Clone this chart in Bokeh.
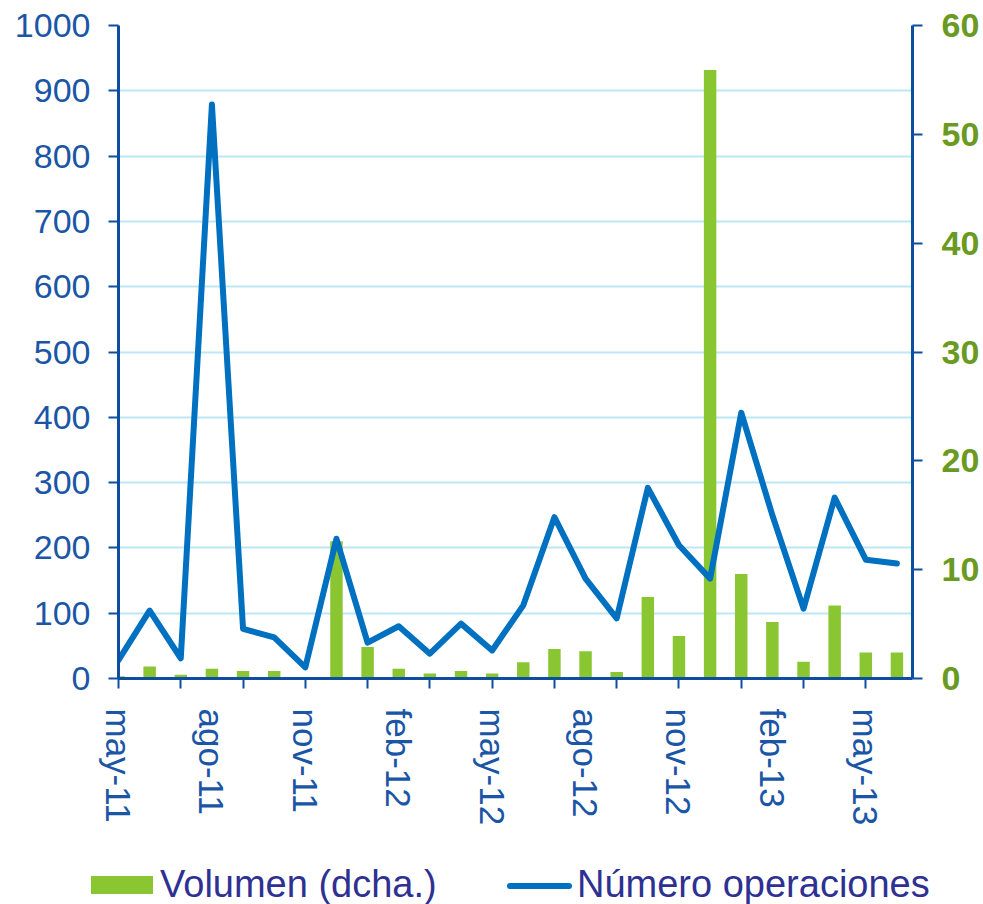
from bokeh.plotting import figure
from bokeh.models import Range1d, LinearAxis, FixedTicker, Grid, Div
from bokeh.layouts import column
from bokeh.embed import file_html
from bokeh.resources import INLINE

# ---- data ----
months = ["may-11", "jun-11", "jul-11", "ago-11", "sep-11", "oct-11", "nov-11", "dic-11",
          "ene-12", "feb-12", "mar-12", "abr-12", "may-12", "jun-12", "jul-12", "ago-12",
          "sep-12", "oct-12", "nov-12", "dic-12", "ene-13", "feb-13", "mar-13", "abr-13",
          "may-13", "jun-13"]
month_index = list(range(len(months)))
operaciones = [28, 104, 31, 879, 76, 63, 17, 214, 55, 80, 38, 84, 43, 112, 247, 153,
               92, 292, 204, 153, 407, 250, 107, 277, 182, 176]
volumen = [0.2, 1.1, 0.35, 0.9, 0.7, 0.7, 0.0, 12.6, 2.9, 0.9, 0.45, 0.7, 0.45, 1.5, 2.7, 2.5,
           0.6, 7.5, 3.9, 55.9, 9.6, 5.2, 1.55, 6.7, 2.4, 2.4]
label_months = [0, 3, 6, 9, 12, 15, 18, 21, 24]
tick_months = [0, 2, 4, 6, 8, 10, 12, 14, 16, 18, 20, 22, 24]
left_ticks = [0, 100, 200, 300, 400, 500, 600, 700, 800, 900, 1000]
right_ticks = [0, 10, 20, 30, 40, 50, 60]
series_names = ["Volumen (dcha.)", "Número operaciones"]

AXIS = "#0D4EA0"
LBL = "#1A56A5"
GREEN_LBL = "#6A9A22"
BAR = "#8AC632"
LINE = "#0070C0"
GRID = "#BDE6F6"
LEG_TXT = "#2E3192"
FONT = "Liberation Sans"

p = figure(width=983, height=852, output_backend="svg", toolbar_location=None,
           x_range=Range1d(0, 25.5), y_range=Range1d(0, 1000),
           min_border_left=118, min_border_right=71, min_border_top=25, min_border_bottom=174,
           x_axis_type=None, y_axis_type=None)
p.outline_line_color = None
p.background_fill_color = "white"
p.border_fill_color = "white"
p.extra_y_ranges = {"vol": Range1d(0, 60)}

# grid
g = Grid(dimension=1, ticker=FixedTicker(ticks=left_ticks))
g.grid_line_color = GRID
g.grid_line_width = 2
p.add_layout(g)

# bars (right axis)
p.vbar(x=month_index, top=volumen, width=0.4, bottom=0, y_range_name="vol",
       fill_color=BAR, line_color=None)
# line (left axis)
p.line(x=month_index, y=operaciones, line_color=LINE, line_width=6,
       line_join="round", line_cap="round")

# left axis
ly = LinearAxis(ticker=FixedTicker(ticks=left_ticks))
ly.axis_line_color = AXIS
ly.axis_line_width = 3
ly.major_tick_line_color = AXIS
ly.major_tick_line_width = 2
ly.major_tick_out = 10
ly.major_tick_in = 0
ly.minor_tick_line_color = None
ly.major_label_standoff = 18
ly.major_label_text_font = FONT
ly.major_label_text_font_size = "34px"
ly.major_label_text_color = LBL
p.add_layout(ly, "left")

# right axis
ry = LinearAxis(y_range_name="vol", ticker=FixedTicker(ticks=right_ticks))
ry.axis_line_color = AXIS
ry.axis_line_width = 3
ry.major_tick_line_color = AXIS
ry.major_tick_line_width = 2
ry.major_tick_out = 10
ry.major_tick_in = 0
ry.minor_tick_line_color = None
ry.major_label_standoff = 19
ry.major_label_text_font = FONT
ry.major_label_text_font_size = "34px"
ry.major_label_text_font_style = "bold"
ry.major_label_text_color = GREEN_LBL
p.add_layout(ry, "right")

# bottom axis
xa = LinearAxis(ticker=FixedTicker(ticks=label_months, minor_ticks=tick_months))
xa.major_label_overrides = {i: months[i] for i in label_months}
xa.axis_line_color = AXIS
xa.axis_line_width = 3
xa.major_tick_line_color = None
xa.major_tick_out = 10
xa.major_tick_in = 0
xa.minor_tick_line_color = AXIS
xa.minor_tick_line_width = 2
xa.minor_tick_out = 10
xa.minor_tick_in = 0
xa.major_label_orientation = "vertical"
xa.major_label_standoff = 20
xa.major_label_text_font = FONT
xa.major_label_text_font_size = "35px"
xa.major_label_text_color = LBL
p.add_layout(xa, "below")

# legend strip (HTML, real text)
legend_html = (
    f'<div style="position:relative;width:983px;height:52px;font-family:\'{FONT}\';'
    f'font-size:38px;color:{LEG_TXT};line-height:1;white-space:nowrap;">'
    f'<span style="position:absolute;left:91px;top:24px;width:62px;height:18px;'
    f'background:{BAR};"></span>'
    f'<span style="position:absolute;left:160px;top:13px;">{series_names[0]}</span>'
    f'<span style="position:absolute;left:507px;top:31px;width:65px;height:6px;'
    f'border-radius:3px;background:{LINE};"></span>'
    f'<span style="position:absolute;left:577px;top:13px;">{series_names[1]}</span>'
    f'</div>'
)
leg = Div(text=legend_html, width=983, height=52, margin=0)

layout = column(p, leg, spacing=0)
open("out.html", "w").write(file_html(layout, INLINE))
